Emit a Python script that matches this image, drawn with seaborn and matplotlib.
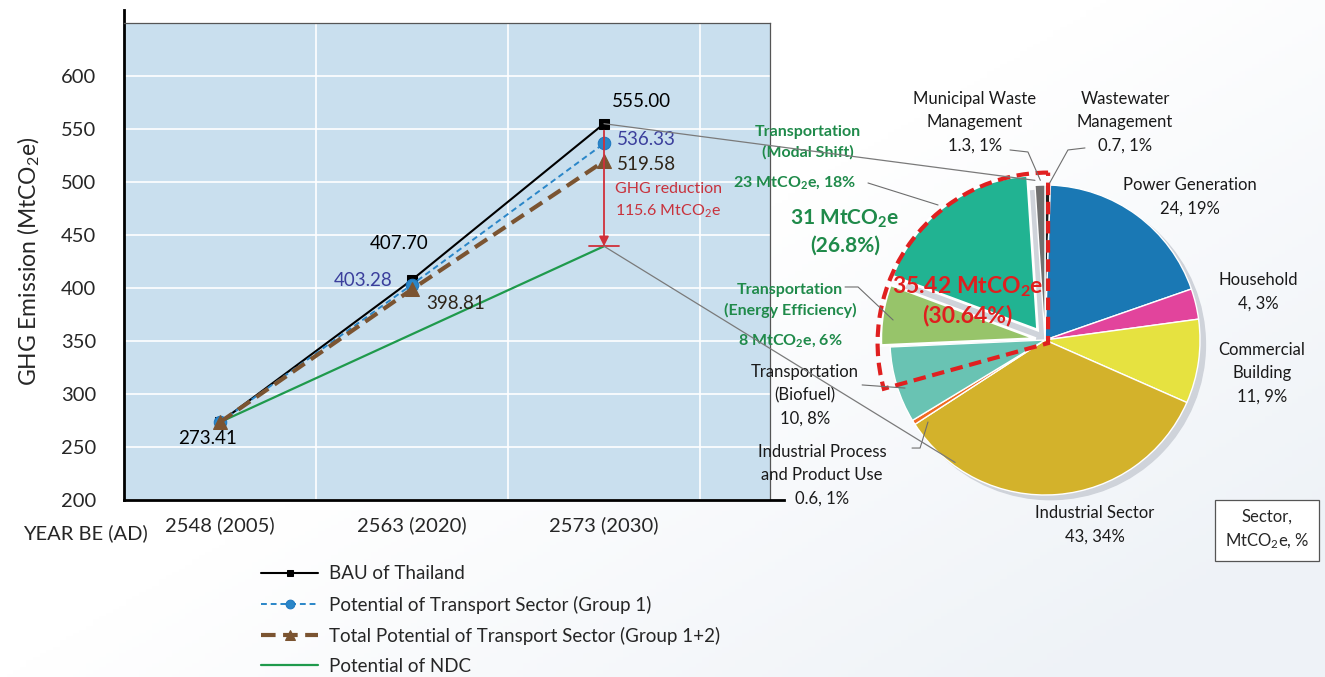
import numpy as np
import pandas as pd
import matplotlib
matplotlib.use("Agg")
import matplotlib.pyplot as plt
import seaborn as sns
from matplotlib.patches import Wedge, Circle
from matplotlib.patches import ConnectionPatch

# ---- data -------------------------------------------------------------
years = ["2548 (2005)", "2563 (2020)", "2573 (2030)"]
bau = [273.41, 407.70, 555.00]
group1 = [273.41, 403.28, 536.33]
group12 = [273.41, 398.81, 519.58]
ndc = [273.41, np.nan, 439.40]

sectors = ["Wastewater\nManagement", "Power Generation", "Household",
           "Commercial\nBuilding", "Industrial Sector",
           "Industrial Process\nand Product Use", "Transportation\n(Biofuel)",
           "Transportation\n(Energy Efficiency)", "Transportation\n(Modal Shift)",
           "Municipal Waste\nManagement"]
sector_mt = [0.7, 24, 4, 11, 43, 0.6, 10, 8, 23, 1.3]
sector_pct = [1, 19, 3, 9, 34, 1, 8, 6, 18, 1]
sector_colors = ["#1c1c1c", "#1a78b4", "#e2449c", "#e6e240", "#d3b22b",
                 "#f06a22", "#69c3b3", "#97c46a", "#21b392", "#707070"]
transport_total = 35.42
transport_pct = 30.64
transport_sub = 31
transport_sub_pct = 26.8

# ---- style ------------------------------------------------------------
sns.set_style("white")
plt.rcParams["font.family"] = ["Lato", "DejaVu Sans"]
plt.rcParams["mathtext.fontset"] = "custom"
plt.rcParams["mathtext.rm"] = "Lato"
plt.rcParams["mathtext.it"] = "Lato:italic"
plt.rcParams["mathtext.bf"] = "Lato:bold"

W, H = 1325, 677
fig = plt.figure(figsize=(W / 100, H / 100), dpi=100)

# faint background wash, bluish toward the lower right
bg = fig.add_axes([0, 0, 1, 1], zorder=-5)
gx, gy = np.meshgrid(np.linspace(0, 1, 200), np.linspace(0, 1, 200))
wash = np.clip((gx - 0.5) * 1.2 + (gy - 0.4) * 1.0, 0, 1)
bg.imshow(wash, cmap=matplotlib.colors.LinearSegmentedColormap.from_list(
    "w", ["#ffffff", "#eef2f7"]), aspect="auto", extent=[0, 1, 0, 1], origin="upper")
bg.axis("off")

# ---- line chart -------------------------------------------------------
ax = fig.add_axes([124 / W, 1 - 500 / H, 646 / W, 477 / H])
ax.set_facecolor("#c9dfee")
pos = np.arange(len(years)) + 0.5
df = pd.DataFrame({"pos": pos, "bau": bau, "g1": group1, "g12": group12, "ndc": ndc})

sns.lineplot(data=df, x="pos", y="ndc", ax=ax, color="#1f9a4c", lw=1.6,
             label="Potential of NDC", zorder=3)
sns.lineplot(data=df, x="pos", y="bau", ax=ax, color="black", lw=1.5,
             marker="s", markersize=7, markeredgecolor="black",
             label="BAU of Thailand", zorder=4)
sns.lineplot(data=df, x="pos", y="g1", ax=ax, color="#2a86c8", lw=1.4,
             linestyle=(0, (3, 2)), marker="o", markersize=9,
             markeredgecolor="#1f78c0", label="Potential of Transport Sector (Group 1)",
             zorder=5)
sns.lineplot(data=df, x="pos", y="g12", ax=ax, color="#7b5431", lw=3,
             linestyle=(0, (3.5, 1.8)), marker="^", markersize=10,
             markeredgecolor="#7b5431",
             label="Total Potential of Transport Sector (Group 1+2)", zorder=6)

ax.set_xlim(0, 646 / 192)
ax.set_ylim(200, 650)
ax.set_yticks(np.arange(200, 601, 50))
ax.set_xticks(pos)
ax.set_xticklabels(years)
ax.set_xticks([1, 2, 3], minor=True)
ax.grid(True, which="major", axis="y", color="white", lw=1.2)
ax.grid(True, which="minor", axis="x", color="white", lw=1.2)
ax.tick_params(axis="both", which="both", length=0, labelsize=14.5)
ax.tick_params(axis="y", pad=20)
ax.tick_params(axis="x", pad=12)
ax.set_xlabel("")
ax.set_ylabel("GHG Emission (MtCO$_2$e)", fontsize=16.5, labelpad=14)
for s in ["top", "right"]:
    ax.spines[s].set_color("#555555")
    ax.spines[s].set_linewidth(0.9)
ax.spines["left"].set_linewidth(2)
ax.spines["left"].set_color("black")
ax.spines["left"].set_bounds(200, 662)
ax.spines["bottom"].set_linewidth(2)
ax.spines["bottom"].set_color("black")
ax.spines["bottom"].set_bounds(0, 660 / 192)
fig.text(85 / W, 1 - 533 / H, "YEAR BE (AD)", fontsize=14.5, ha="center", va="center")

# value labels
navy = "#3b3f9c"
dark = "#2e2418"
lab = dict(fontsize=13.5, textcoords="offset points", va="center")
ax.annotate(f"{bau[2]:.2f}", (pos[2], bau[2]), xytext=(27, 16), ha="center", color="black", **lab)
ax.annotate(f"{group1[2]:.2f}", (pos[2], group1[2]), xytext=(9, 3), ha="left", color=navy, **lab)
ax.annotate(f"{group12[2]:.2f}", (pos[2], group12[2]), xytext=(9, -2), ha="left", color=dark, **lab)
ax.annotate(f"{bau[1]:.2f}", (pos[1], bau[1]), xytext=(-9, 26), ha="center", color="black", **lab)
ax.annotate(f"{group1[1]:.2f}", (pos[1], group1[1]), xytext=(-14, 3), ha="right", color=navy, **lab)
ax.annotate(f"{group12[1]:.2f}", (pos[1], group12[1]), xytext=(10, -10), ha="left", color=dark, **lab)
ax.annotate(f"{bau[0]:.2f}", (pos[0], bau[0]), xytext=(-9, -12), ha="center", color="black", **lab)

# GHG reduction arrow
red = "#c8323c"
reduction = bau[2] - ndc[2]
ax.annotate("", xy=(pos[2], ndc[2]), xytext=(pos[2], bau[2]),
            arrowprops=dict(arrowstyle="-|>", color="#d0303a", lw=1.3,
                            mutation_scale=14, shrinkA=5, shrinkB=0), zorder=7)
ax.plot([pos[2] - 0.08, pos[2] + 0.08], [ndc[2], ndc[2]], color="#d0303a", lw=1.3, zorder=7)
ax.text(pos[2] + 0.055, 482, f"GHG reduction\n{reduction:.1f} MtCO$_2$e", color=red,
        fontsize=11.5, ha="left", va="center", linespacing=1.55)

handles, labels = ax.get_legend_handles_labels()
ax.get_legend().remove()
order = [1, 2, 3, 0]
fig.legend([handles[i] for i in order], [labels[i] for i in order],
           loc="upper left", bbox_to_anchor=(252 / W, 1 - 556 / H), frameon=False,
           fontsize=13.5, handlelength=3.0, labelspacing=0.7, markerscale=0.7,
           borderpad=0, handletextpad=0.6)

# ---- pie ----------------------------------------------------------------
R = 155
cx, cy = 1045, 340
pax = fig.add_axes([(cx - 1.3 * R) / W, 1 - (cy + 1.3 * R) / H, 2.6 * R / W, 2.6 * R / H])

explode = [0, 0, 0, 0, 0, 0, 0, 0.06, 0.08, 0]
pax.add_patch(Circle((0.035, -0.03), 1.0, color="#cfd3da", zorder=0))
wedges, _ = pax.pie(sector_mt, colors=sector_colors, startangle=90, counterclock=False,
                    explode=explode, radius=1.0, center=(0, 0), frame=True)
pax.set_xlim(-1.3, 1.3)
pax.set_ylim(-1.3, 1.3)
pax.set_aspect("equal")
pax.axis("off")
for i in (7, 8):
    wedges[i].set_edgecolor("white")
    wedges[i].set_linewidth(2)

# dashed outline around the transport wedges
total = sum(sector_mt)
span = transport_total / total * 360
pax.add_patch(Wedge((0.02, -0.02), 1.1, 90, 90 + span + 4, fill=False, ec="#e02020",
                    lw=3, ls=(0, (3, 1.6)), zorder=6))

# sector labels
txt = dict(fontsize=12, ha="center", va="center", linespacing=1.55, color="#1a1a1a")
label_xy = {0: (0.516, 1.406), 1: (0.935, 0.923), 2: (1.374, 0.31), 3: (1.40, -0.213),
            4: (0.323, -1.194), 5: (-1.439, -0.871), 6: (-1.548, -0.355), 9: (-0.452, 1.406)}
for i, (lx, ly) in label_xy.items():
    pax.text(lx, ly, f"{sectors[i]}\n{sector_mt[i]:g}, {sector_pct[i]}%", **txt)

green = "#1f8a4a"
gt = dict(fontsize=11.5, ha="center", va="center", color=green, fontweight="bold",
          linespacing=1.5, zorder=8)
pax.text(-1.529, 1.277, sectors[8], **gt)
pax.text(-1.613, 1.013, f"{sector_mt[8]:g} MtCO$_\\mathbf{{2}}$e, {sector_pct[8]}%", **gt)
pax.text(-1.645, 0.255, sectors[7], **gt)
pax.text(-1.645, -0.005, f"{sector_mt[7]:g} MtCO$_\\mathbf{{2}}$e, {sector_pct[7]}%", **gt)
pax.text(-1.29, 0.70, f"{transport_sub} MtCO$_\\mathbf{{2}}$e\n({transport_sub_pct}%)",
         fontsize=15, ha="center", va="center", color=green, fontweight="bold",
         linespacing=1.35, zorder=8)
pax.text(-0.50, 0.255, f"{transport_total:.2f} MtCO$_\\mathbf{{2}}$e\n({transport_pct:.2f}%)",
         fontsize=16.5, ha="center", va="center", color="#e01e1e", fontweight="bold",
         linespacing=1.3, zorder=8)

# leader lines
gray = "#6e6e6e"
leaders = [
    [(-0.226, 1.226), (-0.11, 1.213), (-0.03, 1.03)],
    [(0.258, 1.239), (0.148, 1.226), (0.03, 1.013)],
    [(-1.142, 1.013), (-0.69, 0.871)],
    [(-1.29, 0.342), (-1.206, 0.342), (-0.98, 0.129)],
    [(-1.18, -0.29), (-0.903, -0.31)],
    [(-0.858, -0.697), (-0.806, -0.697), (-0.755, -0.529)],
]
for pts in leaders:
    xs, ys = zip(*pts)
    pax.plot(xs, ys, color=gray, lw=0.8, zorder=7)

# legend box
pax.text(1.432, -1.226, "Sector,\nMtCO$_2$e, %", fontsize=12, ha="center", va="center",
         linespacing=1.5, bbox=dict(boxstyle="square,pad=0.6", fc="white", ec="#555555", lw=0.9))

# connectors from the 2030 values to the pie
for yv, target in [(bau[2], (-0.065, 1.03)), (ndc[2], (-0.58, -0.79))]:
    con = ConnectionPatch(xyA=(pos[2], yv), coordsA=ax.transData, xyB=target,
                          coordsB=pax.transData, color="#7a7a7a", lw=0.9, zorder=9)
    fig.add_artist(con)

fig.savefig("out.png", dpi=100)
